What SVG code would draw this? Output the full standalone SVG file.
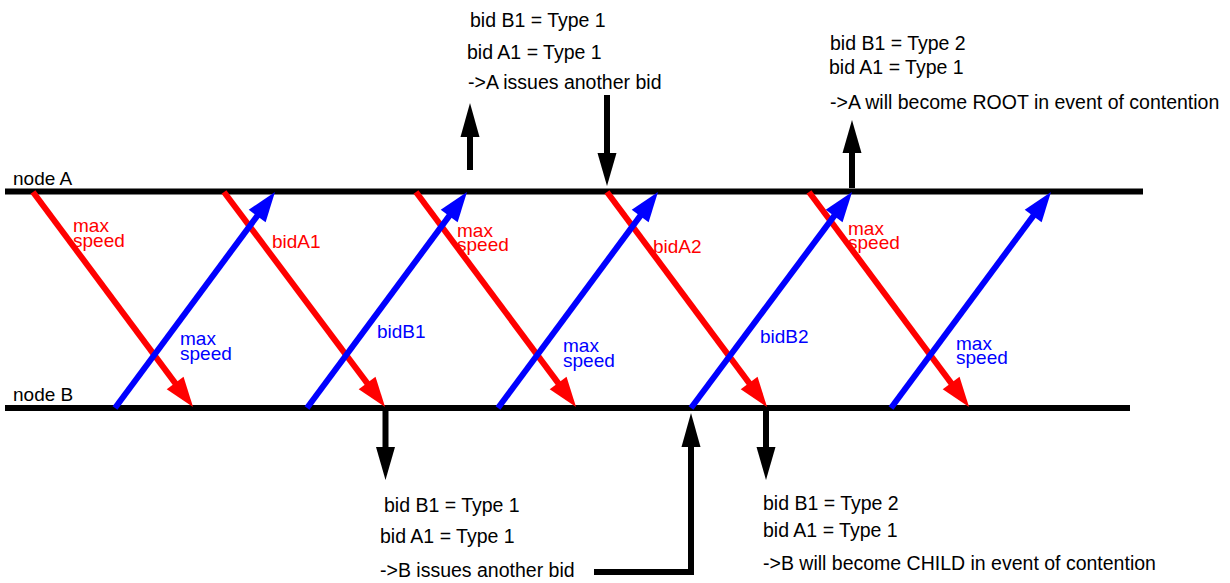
<svg xmlns="http://www.w3.org/2000/svg" width="1230" height="583" viewBox="0 0 1230 583">
<defs>
<style>
text{font-family:"Liberation Sans",Arial,sans-serif;font-size:19px}
.n{font-size:19.5px}
.t{fill:#000}
.r{fill:#ff0000}
.b{fill:#0000ff}
.lane{stroke:#000;stroke-width:6;fill:none}
.red{stroke:#ff0000;stroke-width:6;fill:none}
.blue{stroke:#0000ff;stroke-width:6;fill:none}
.blk{stroke:#000;stroke-width:6;fill:none}
.head{fill:#000}
</style>
<marker id="hr" markerUnits="userSpaceOnUse" markerWidth="60" markerHeight="60" viewBox="-30 -30 60 60" refX="0" refY="0" orient="auto">
<path d="M-12,-10.5 L18,0 L-12,10.5 z" fill="#ff0000"/>
</marker>
<marker id="hb" markerUnits="userSpaceOnUse" markerWidth="60" markerHeight="60" viewBox="-30 -30 60 60" refX="0" refY="0" orient="auto">
<path d="M-12,-10.5 L18,0 L-12,10.5 z" fill="#0000ff"/>
</marker>
</defs>
<rect width="1230" height="583" fill="#fff"/>
<g id="nodeA">
<line class="lane" x1="5" y1="191.5" x2="1143" y2="191.5"/>
<text class="t" x="13" y="185">node A</text>
</g>
<g id="nodeB">
<line class="lane" x1="5" y1="408" x2="1130" y2="408"/>
<text class="t" x="13" y="401">node B</text>
</g>
<g id="connectors">
<line class="red" x1="33" y1="192" x2="182.3" y2="392.6" marker-end="url(#hr)"/>
<line class="red" x1="224" y1="192" x2="374.3" y2="392.6" marker-end="url(#hr)"/>
<line class="red" x1="416" y1="192" x2="565.3" y2="392.6" marker-end="url(#hr)"/>
<line class="red" x1="607" y1="192" x2="756.3" y2="392.6" marker-end="url(#hr)"/>
<line class="red" x1="809" y1="192" x2="958.3" y2="392.6" marker-end="url(#hr)"/>
<line class="blue" x1="115" y1="408" x2="264.3" y2="206.4" marker-end="url(#hb)"/>
<line class="blue" x1="307" y1="408" x2="456.3" y2="206.4" marker-end="url(#hb)"/>
<line class="blue" x1="498" y1="408" x2="647.3" y2="206.4" marker-end="url(#hb)"/>
<line class="blue" x1="691" y1="408" x2="841.3" y2="206.4" marker-end="url(#hb)"/>
<line class="blue" x1="891" y1="408" x2="1040.3" y2="206.4" marker-end="url(#hb)"/>
<line class="blk" x1="470" y1="170" x2="470" y2="136"/>
<polygon class="head" points="460.5,137 479.5,137 470,103"/>
<line class="blk" x1="607" y1="95" x2="607" y2="154"/>
<polygon class="head" points="597.5,153 616.5,153 607,186"/>
<line class="blk" x1="852" y1="188" x2="852" y2="152"/>
<polygon class="head" points="842.5,153 861.5,153 852,120"/>
<line class="blk" x1="385.5" y1="411" x2="385.5" y2="448"/>
<polygon class="head" points="376,447 395,447 385.5,480"/>
<polyline class="blk" points="594,572 691,572 691,446"/>
<polygon class="head" points="681.5,447 700.5,447 691,413"/>
<line class="blk" x1="766" y1="411" x2="766" y2="448"/>
<polygon class="head" points="756.5,447 775.5,447 766,480"/>
</g>
<g id="labels-red">
<text class="r" x="73" y="232">max<tspan x="73" y="247">speed</tspan></text>
<text class="r" x="457" y="237">max<tspan x="457" y="251">speed</tspan></text>
<text class="r" x="848" y="235">max<tspan x="848" y="249">speed</tspan></text>
<text class="r" x="272" y="248">bidA1</text>
<text class="r" x="653" y="253">bidA2</text>
</g>
<g id="labels-blue">
<text class="b" x="180" y="345">max<tspan x="180" y="360">speed</tspan></text>
<text class="b" x="563" y="352">max<tspan x="563" y="367">speed</tspan></text>
<text class="b" x="956" y="350">max<tspan x="956" y="364">speed</tspan></text>
<text class="b" x="377" y="338">bidB1</text>
<text class="b" x="760" y="343">bidB2</text>
</g>
<g id="note-top-1">
<text class="t n" x="470" y="27">bid B1 = Type 1</text>
<text class="t n" x="467" y="59">bid A1 = Type 1</text>
<text class="t n" x="468" y="89">-&gt;A issues another bid</text>
</g>
<g id="note-top-2">
<text class="t n" x="830" y="50">bid B1 = Type 2</text>
<text class="t n" x="829" y="74">bid A1 = Type 1</text>
<text class="t n" x="830" y="109">-&gt;A will become ROOT in event of contention</text>
</g>
<g id="note-bottom-1">
<text class="t n" x="384" y="512">bid B1 = Type 1</text>
<text class="t n" x="380" y="543">bid A1 = Type 1</text>
<text class="t n" x="380" y="577">-&gt;B issues another bid</text>
</g>
<g id="note-bottom-2">
<text class="t n" x="763" y="510">bid B1 = Type 2</text>
<text class="t n" x="763" y="537">bid A1 = Type 1</text>
<text class="t n" x="763" y="570">-&gt;B will become CHILD in event of contention</text>
</g>
</svg>
